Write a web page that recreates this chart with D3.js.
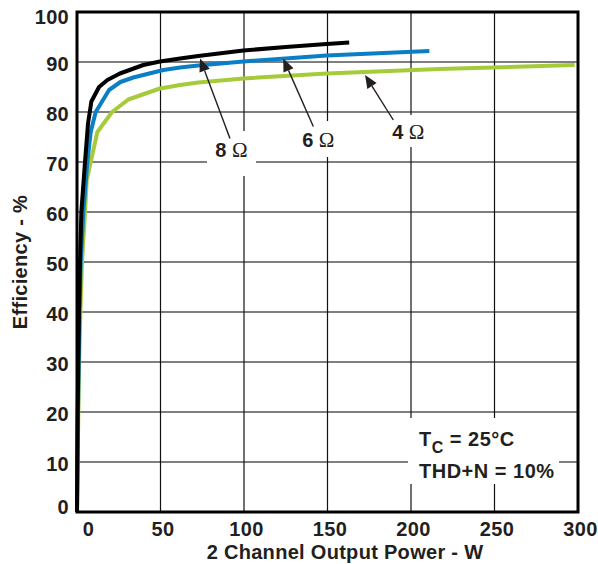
<!DOCTYPE html>
<html lang="en">
<head>
  <meta charset="UTF-8" />
  <title>Efficiency vs Output Power</title>
  <script src="https://d3js.org/d3.v7.min.js"></script>
  <style>
    body { margin: 0; background: #fff; }
    svg { display: block; }
    text {
      font-family: 'Liberation Sans', Arial, sans-serif;
      font-weight: bold;
      fill: #231f20;
    }
    .tick text { font-size: 20px; letter-spacing: 0.3px; }
    .omega { font-family: 'Liberation Serif', 'Times New Roman', serif; font-weight: normal; }
  </style>
</head>
<body>
  <div id="chart"></div>

  <script>
    // 8 ohm load
    const power8 = [0, 0.2, 0.4, 0.8, 1.2, 1.8, 2.6, 4.8, 6.6, 8.6, 13.2, 18.2, 25.7, 39.7, 49.7, 61.7, 72.6, 99.6, 125, 149.5, 163];
    const eff8   = [0, 10, 20, 30, 40, 50, 60, 70, 77.7, 82.1, 85, 86.4, 87.7, 89.4, 90.1, 90.7, 91.2, 92.3, 93, 93.6, 93.9];
    // 6 ohm load
    const power6 = [0, 0.3, 0.6, 1, 1.5, 2.2, 3.8, 6.2, 8.2, 11.2, 19.2, 26, 33.7, 51.7, 61.7, 72.6, 99.6, 149.5, 211];
    const eff6   = [0, 10, 20, 30, 40, 50, 60, 70, 76, 80, 84.4, 86, 86.9, 88.4, 88.9, 89.3, 90.1, 91.3, 92.2];
    // 4 ohm load
    const power4 = [0, 0.4, 0.8, 1.3, 2, 3, 4.8, 5.8, 8.2, 12.2, 21, 30.7, 49.7, 61.7, 72.6, 99.6, 149.5, 217, 249, 298];
    const eff4   = [0, 10, 20, 30, 40, 50, 60, 66.3, 70, 76, 80, 82.5, 84.7, 85.4, 85.9, 86.7, 87.7, 88.6, 88.9, 89.4];

    const xTicks = [0, 50, 100, 150, 200, 250, 300];
    const yTicks = [0, 10, 20, 30, 40, 50, 60, 70, 80, 90, 100];

    // callouts: label, arrow tip (P, E), arrow tail (P, E)
    const calloutLabels = ["8", "6", "4"];
    const calloutTips   = [[73.7, 90.7], [123.5, 90.7], [172.5, 87.4]];
    const calloutTails  = [[91.6, 74.7], [141.5, 77.1], [189.4, 78.4]];

    const width = 598, height = 564;
    const x = d3.scaleLinear().domain([0, 300]).range([77, 578]);
    const y = d3.scaleLinear().domain([0, 100]).range([512, 12]);

    const svg = d3.select("#chart").append("svg")
      .attr("width", width)
      .attr("height", height);

    // grid
    svg.append("g").selectAll("line")
      .data(yTicks.slice(1, -1))
      .enter().append("line")
      .attr("x1", x(0)).attr("x2", x(300))
      .attr("y1", d => y(d)).attr("y2", d => y(d))
      .attr("stroke", "#555").attr("stroke-width", 1.3);

    svg.append("g").selectAll("line")
      .data(xTicks.slice(1, -1))
      .enter().append("line")
      .attr("x1", d => x(d)).attr("x2", d => x(d))
      .attr("y1", y(0)).attr("y2", y(100))
      .attr("stroke", "#111").attr("stroke-width", 1.2);

    // white boxes behind the labels (they break the grid)
    const boxes = svg.append("g");
    boxes.append("rect").attr("x", 207).attr("y", 131).attr("width", 49).attr("height", 45).attr("fill", "#fff");
    boxes.append("rect").attr("x", 298).attr("y", 121).attr("width", 42).attr("height", 36).attr("fill", "#fff");
    boxes.append("rect").attr("x", 388).attr("y", 115).attr("width", 42).attr("height", 32).attr("fill", "#fff");
    boxes.append("rect").attr("x", 408).attr("y", 418).attr("width", 151).attr("height", 66).attr("fill", "#fff");

    // curves
    const line = d3.line()
      .x(d => x(d[0]))
      .y(d => y(d[1]));

    const series = [
      { p: power4, e: eff4, color: "#a6cb3a" },
      { p: power6, e: eff6, color: "#0a7fc6" },
      { p: power8, e: eff8, color: "#000000" }
    ];

    svg.append("g").selectAll("path")
      .data(series)
      .enter().append("path")
      .attr("d", s => line(s.p.map((v, i) => [v, s.e[i]])))
      .attr("fill", "none")
      .attr("stroke", s => s.color)
      .attr("stroke-width", 4)
      .attr("stroke-linejoin", "round");

    // frame
    svg.append("rect")
      .attr("x", x(0)).attr("y", y(100))
      .attr("width", x(300) - x(0)).attr("height", y(0) - y(100))
      .attr("fill", "none").attr("stroke", "#000").attr("stroke-width", 3);

    // axes
    const xAxis = svg.append("g")
      .attr("transform", `translate(0,${y(0)})`)
      .call(d3.axisBottom(x).tickValues(xTicks).tickSize(0).tickPadding(9.5));
    xAxis.select(".domain").remove();
    xAxis.selectAll(".tick text")
      .attr("dx", d => d === 0 ? 11 : 2)
      .style("font-family", "'Liberation Sans', Arial, sans-serif");

    const yAxis = svg.append("g")
      .attr("transform", `translate(${x(0)},0)`)
      .call(d3.axisLeft(y).tickValues(yTicks).tickSize(0).tickPadding(8));
    yAxis.select(".domain").remove();
    yAxis.selectAll(".tick text")
      .attr("dy", d => d === 0 ? "0.05em" : d === 100 ? "0.55em" : "0.4em")
      .style("font-family", "'Liberation Sans', Arial, sans-serif");

    // axis titles
    svg.append("text")
      .attr("x", 345).attr("y", 559)
      .attr("text-anchor", "middle")
      .style("font-size", "20px")
      .style("letter-spacing", "0.3px")
      .text("2 Channel Output Power - W");

    svg.append("text")
      .attr("transform", `translate(27,${(y(0) + y(100)) / 2}) rotate(-90)`)
      .attr("text-anchor", "middle")
      .style("font-size", "20px")
      .style("letter-spacing", "0.3px")
      .text("Efficiency - %");

    // callout arrows
    const arrows = svg.append("g");
    calloutTips.forEach((tip, i) => {
      const tail = calloutTails[i];
      const tx = x(tip[0]), ty = y(tip[1]);
      const sx = x(tail[0]), sy = y(tail[1]);
      const ang = Math.atan2(ty - sy, tx - sx);
      const len = 13, half = 5.5;
      const bx = tx - len * Math.cos(ang), by = ty - len * Math.sin(ang);
      arrows.append("line")
        .attr("x1", sx).attr("y1", sy).attr("x2", bx).attr("y2", by)
        .attr("stroke", "#231f20").attr("stroke-width", 1.4);
      arrows.append("path")
        .attr("d", `M${tx},${ty}L${bx - half * Math.sin(ang)},${by + half * Math.cos(ang)}L${bx + half * Math.sin(ang)},${by - half * Math.cos(ang)}Z`)
        .attr("fill", "#231f20");
    });

    const labelPos = [[231.5, 156.7], [318.3, 146.7], [408.3, 139.3]];
    calloutLabels.forEach((lab, i) => {
      const t = svg.append("text")
        .attr("x", labelPos[i][0]).attr("y", labelPos[i][1])
        .attr("text-anchor", "middle")
        .style("font-size", "20px");
      t.append("tspan").text(lab + " ");
      t.append("tspan").attr("class", "omega").style("font-size", "21px").text("\u03A9");
    });

    // conditions note
    const note = svg.append("text")
      .attr("x", 419).attr("y", 445.7)
      .style("font-size", "20px")
      .style("letter-spacing", "0.5px");
    note.append("tspan").text("T");
    note.append("tspan").attr("dy", 7).style("font-size", "16px").text("C");
    note.append("tspan").attr("dy", -7).text(" = 25\u00B0C");

    svg.append("text")
      .attr("x", 419).attr("y", 477.7)
      .style("font-size", "20px")
      .style("letter-spacing", "0.5px")
      .text("THD+N = 10%");
  </script>
</body>
</html>
